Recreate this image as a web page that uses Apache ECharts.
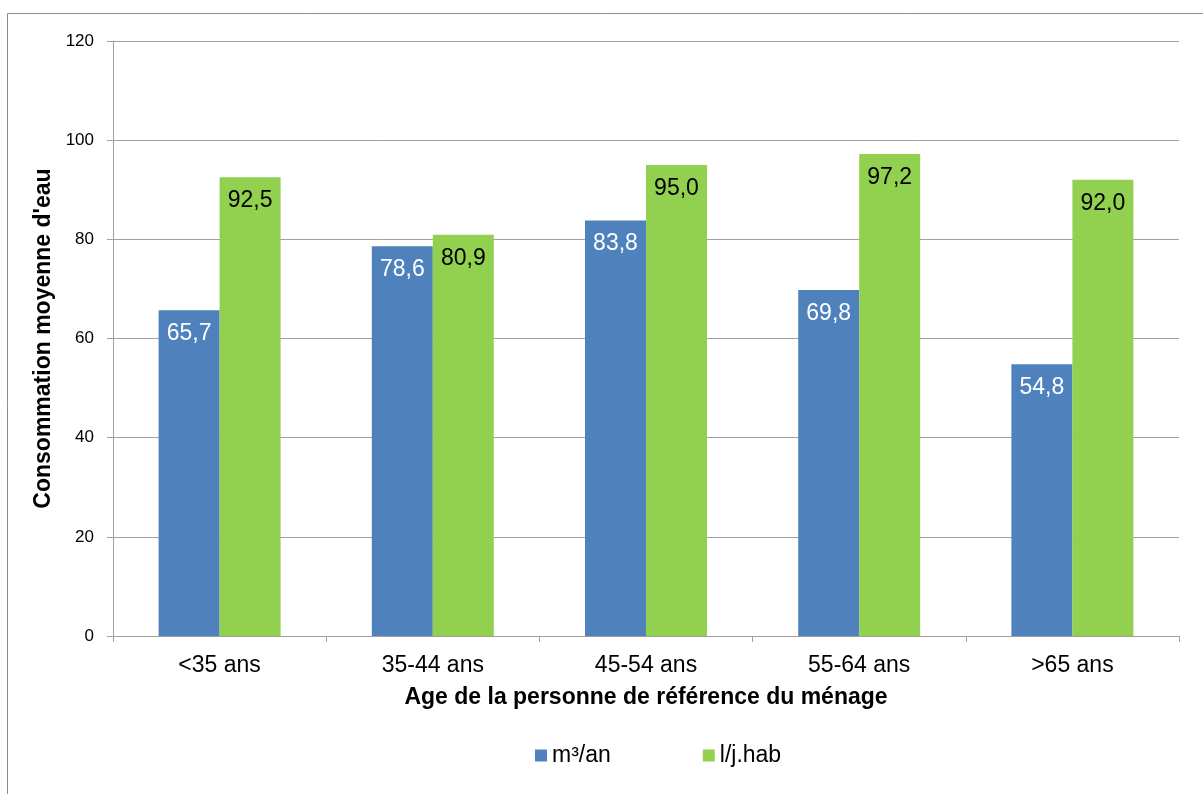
<!DOCTYPE html>
<html>
<head>
<meta charset="utf-8">
<script src="https://cdn.jsdelivr.net/npm/echarts@6/dist/echarts.min.js"></script>
<style>
  html, body { margin: 0; padding: 0; background: #fff; }
  #graph1 { width: 1203px; height: 794px; }
</style>
</head>
<body>
<div id="graph1"></div>
<script>
var categories = ['<35 ans', '35-44 ans', '45-54 ans', '55-64 ans', '>65 ans'];
var m3an = [65.7, 78.6, 83.8, 69.8, 54.8];
var ljhab = [92.5, 80.9, 95.0, 97.2, 92.0];
var seriesNames = ['m³/an', 'l/j.hab'];

var myChart1 = echarts.init(document.getElementById('graph1'));

function fmt(p) {
    return p.value.toFixed(1).replace('.', ',');
}

var option = {
    animation: false,
    textStyle: { fontFamily: 'Liberation Sans, Arial, sans-serif' },
    graphic: [{
        type: 'rect',
        shape: { x: 7.5, y: 13.5, width: 1210, height: 800 },
        style: { fill: 'none', stroke: '#8c8c8c', lineWidth: 1 },
        silent: true
    }],
    grid: { left: 113, right: 24, top: 41, bottom: 158 },
    legend: {
        data: seriesNames,
        top: 739,
        left: 530,
        itemGap: 92,
        itemWidth: 12,
        itemHeight: 12,
        icon: 'rect',
        textStyle: { fontSize: 23, color: '#000' }
    },
    xAxis: [{
        type: 'category',
        data: categories,
        name: 'Age de la personne de référence du ménage',
        nameLocation: 'middle',
        nameGap: 50,
        nameTextStyle: { fontSize: 23, fontWeight: 'bold', color: '#000' },
        axisLine: { lineStyle: { color: '#a0a0a0' } },
        axisTick: { show: true, length: 6, lineStyle: { color: '#a0a0a0' } },
        axisLabel: { fontSize: 23, color: '#000', margin: 18 }
    }],
    yAxis: {
        type: 'value',
        min: 0,
        max: 120,
        interval: 20,
        name: "Consommation moyenne d'eau",
        nameLocation: 'middle',
        nameGap: 49,
        nameTextStyle: { fontSize: 23, fontWeight: 'bold', color: '#000' },
        axisLine: { show: true, lineStyle: { color: '#a0a0a0' } },
        axisTick: { show: true, length: 6, lineStyle: { color: '#a0a0a0' } },
        axisLabel: { fontSize: 17, color: '#000', margin: 19 },
        splitLine: { lineStyle: { color: '#a0a0a0' } }
    },
    series: [
        {
            name: seriesNames[0],
            type: 'bar',
            data: m3an,
            barWidth: 61,
            barGap: '0%',
            itemStyle: { color: '#4f81bd' },
            label: {
                show: true,
                position: 'insideTop',
                distance: 12,
                formatter: fmt,
                fontSize: 23,
                color: '#fff'
            }
        },
        {
            name: seriesNames[1],
            type: 'bar',
            data: ljhab,
            barWidth: 61,
            barGap: '0%',
            itemStyle: { color: '#92d050' },
            label: {
                show: true,
                position: 'insideTop',
                distance: 12,
                formatter: fmt,
                fontSize: 23,
                color: '#000'
            }
        }
    ]
};
myChart1.setOption(option);
</script>
</body>
</html>
